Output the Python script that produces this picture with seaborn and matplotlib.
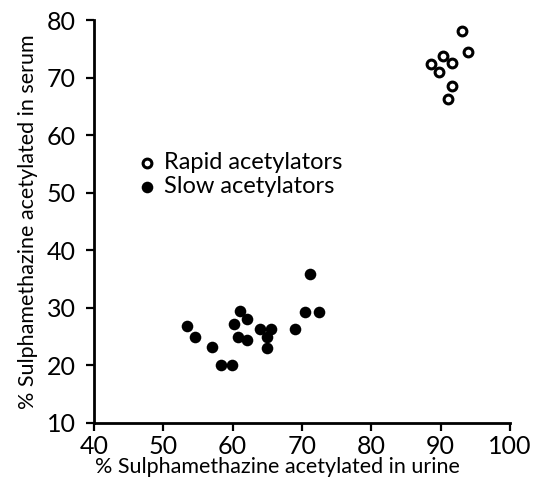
import seaborn as sns
import pandas as pd
import matplotlib
from matplotlib import pyplot as plt
matplotlib.use("Agg")

rapid_urine = [93.1, 93.9, 90.3, 88.6, 91.7, 89.8, 91.6, 91.1]
rapid_serum = [78.1, 74.4, 73.8, 72.4, 72.6, 71.0, 68.6, 66.2]

slow_urine = [71.1, 70.5, 72.5, 61.1, 62.0, 60.2, 53.4, 64.0, 65.6,
              69.0, 54.5, 60.7, 62.0, 65.0, 57.0, 64.9, 58.3, 59.9]
slow_serum = [35.8, 29.3, 29.3, 29.5, 28.0, 27.2, 26.9, 26.3, 26.3,
              26.3, 25.0, 25.0, 24.5, 24.9, 23.2, 23.0, 20.0, 20.0]

x_ticks = [40, 50, 60, 70, 80, 90, 100]
y_ticks = [10, 20, 30, 40, 50, 60, 70, 80]

df = pd.concat([
    pd.DataFrame({"urine": rapid_urine, "serum": rapid_serum, "group": "Rapid acetylators"}),
    pd.DataFrame({"urine": slow_urine, "serum": slow_serum, "group": "Slow acetylators"}),
])

sns.set_style("white")
plt.rcParams["font.family"] = ["Lato", "DejaVu Sans"]
plt.rcParams["text.color"] = "black"
plt.rcParams["axes.labelcolor"] = "black"

fig = plt.figure(figsize=(5.38, 4.88), dpi=100)
ax = fig.add_axes([0.1747, 0.1332, 0.7733, 0.8258])

rapid = df[df["group"] == "Rapid acetylators"]
slow = df[df["group"] == "Slow acetylators"]
sns.scatterplot(data=rapid, x="urine", y="serum", ax=ax, s=40, marker="o",
                facecolor="white", edgecolor="black", linewidth=2.2,
                label="Rapid acetylators")
sns.scatterplot(data=slow, x="urine", y="serum", ax=ax, s=70, marker="o",
                color="black", edgecolor="black", linewidth=0,
                label="Slow acetylators")

ax.set_xlim(40, 100)
ax.set_ylim(10, 80)
ax.set_xticks(x_ticks)
ax.set_yticks(y_ticks)
ax.tick_params(axis="both", direction="out", length=6, width=1.6,
               labelsize=18, color="black", labelcolor="black",
               bottom=True, left=True)
ax.tick_params(axis="x", pad=3)
ax.tick_params(axis="y", pad=7)
ax.set_xlabel("% Sulphamethazine acetylated in urine", fontsize=15.5)
ax.set_ylabel("% Sulphamethazine acetylated in serum", fontsize=15.5, labelpad=6)
ax.xaxis.set_label_coords(0.44, -0.085)

for side in ["top", "right"]:
    ax.spines[side].set_visible(False)
for side in ["left", "bottom"]:
    ax.spines[side].set_color("black")
    ax.spines[side].set_linewidth(2)

ax.legend(loc="upper left", bbox_to_anchor=(0.08, 0.695), frameon=False,
          fontsize=17, handletextpad=0.25, labelspacing=0.1,
          borderaxespad=0, handlelength=0.9, labelcolor="black")

plt.savefig("out.png", dpi=100)
plt.close()
